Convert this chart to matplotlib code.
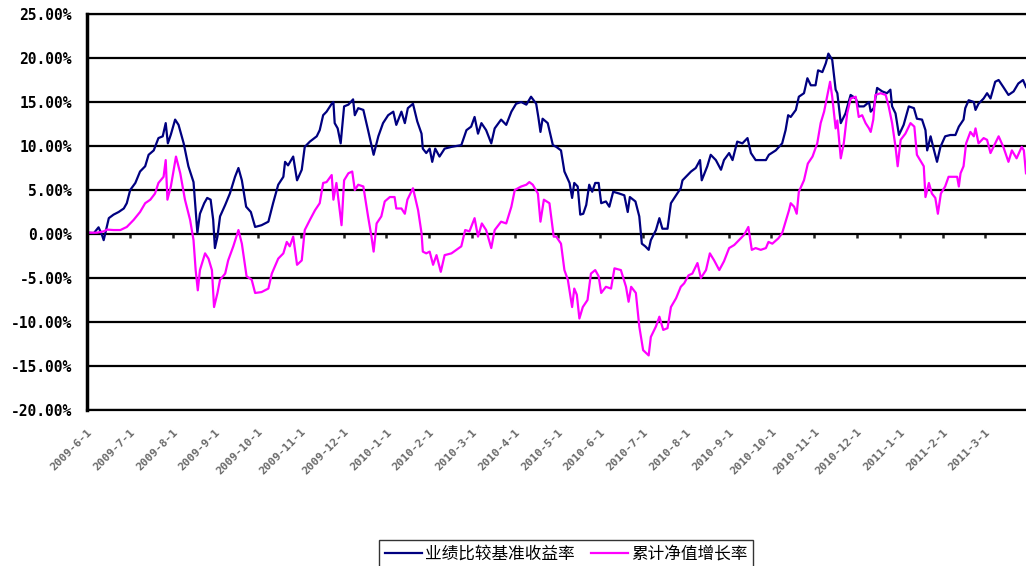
import matplotlib
matplotlib.use("Agg")
import matplotlib.pyplot as plt

# month labels on the category axis (one tick per month start)
month_labels = ["2009-6-1", "2009-7-1", "2009-8-1", "2009-9-1", "2009-10-1",
                "2009-11-1", "2009-12-1", "2010-1-1", "2010-2-1", "2010-3-1",
                "2010-4-1", "2010-5-1", "2010-6-1", "2010-7-1", "2010-8-1",
                "2010-9-1", "2010-10-1", "2010-11-1", "2010-12-1", "2011-1-1",
                "2011-2-1", "2011-3-1"]

# benchmark return (%), time in months since 2009-6-1
bench_t = [0.0, 0.04, 0.16, 0.27, 0.35, 0.39, 0.51, 0.62, 0.74, 0.86, 0.93,
           1.01, 1.13, 1.24, 1.36, 1.44, 1.56, 1.67, 1.77, 1.84, 1.89, 1.96,
           2.06, 2.14, 2.26, 2.37, 2.49, 2.58, 2.64, 2.74, 2.81, 2.89, 2.95,
           2.99, 3.05, 3.11, 3.23, 3.34, 3.46, 3.54, 3.62, 3.72, 3.83, 3.93,
           4.08, 4.24, 4.35, 4.47, 4.59, 4.63, 4.70, 4.82, 4.91, 5.02, 5.09,
           5.21, 5.37, 5.44, 5.52,
           5.60, 5.72, 5.76, 5.79, 5.86, 5.93, 6.01, 6.11, 6.22, 6.26, 6.34,
           6.46, 6.57, 6.70, 6.81, 6.92, 7.04, 7.16, 7.23, 7.35, 7.43, 7.50,
           7.62, 7.72, 7.82, 7.85, 7.93, 8.01, 8.07, 8.14, 8.24, 8.36, 8.52,
           8.75, 8.87, 8.98, 9.06, 9.14, 9.22, 9.33, 9.45, 9.53, 9.68, 9.80,
           9.92, 10.03, 10.15, 10.27, 10.38, 10.50, 10.55, 10.60, 10.65,
           10.77, 10.89,
           10.97, 11.08, 11.16, 11.28, 11.34, 11.39, 11.47, 11.53, 11.60,
           11.67, 11.74, 11.81, 11.88, 11.96, 12.02, 12.13, 12.21, 12.30,
           12.44, 12.56, 12.64, 12.69, 12.82, 12.91, 12.97, 13.05, 13.13,
           13.18, 13.30, 13.38, 13.45, 13.57, 13.65, 13.77, 13.88, 13.92,
           14.04, 14.12, 14.23, 14.33, 14.37, 14.50, 14.58, 14.70, 14.82,
           14.89, 15.01, 15.09, 15.20, 15.32, 15.44, 15.52, 15.63, 15.75,
           15.87, 15.94, 16.10, 16.25, 16.33, 16.39,
           16.45, 16.57, 16.64, 16.76, 16.84, 16.92, 17.03, 17.09, 17.19,
           17.27, 17.33, 17.42, 17.50, 17.54, 17.62, 17.73, 17.85, 17.97,
           18.04, 18.16, 18.28, 18.32, 18.39, 18.47, 18.59, 18.70, 18.78,
           18.82, 18.90, 18.98, 19.09, 19.21, 19.33, 19.40, 19.52, 19.60,
           19.64, 19.72, 19.79, 19.87, 19.95, 20.06, 20.18, 20.30, 20.38,
           20.49, 20.53, 20.61, 20.73, 20.77, 20.84, 20.96, 21.04, 21.12,
           21.23, 21.31, 21.42, 21.54, 21.66, 21.77, 21.88, 21.95]
bench_v = [0.0, 0.15, 0.1, 0.76, -0.1, -0.7, 1.8, 2.2, 2.5, 2.9, 3.5,
           5.0, 5.8, 7.1, 7.7, 9.0, 9.5, 10.9, 11.1, 12.6, 10.3, 11.3,
           13.0, 12.4, 10.3, 7.7, 5.9, 0.15, 2.3, 3.5, 4.1, 3.9, 1.6,
           -1.6, -0.3, 2.0, 3.3, 4.6, 6.5, 7.5, 6.1, 3.1, 2.5, 0.8,
           1.0, 1.4, 3.5, 5.6, 6.5, 8.2, 7.8, 8.8, 6.1, 7.3, 9.9,
           10.5, 11.1, 11.8, 13.5,
           13.9, 14.8, 15.0, 12.6, 12.0, 10.3, 14.5, 14.7, 15.3, 13.5, 14.3,
           14.1, 11.8, 9.0, 11.1, 12.6, 13.5, 13.9, 12.4, 13.9, 12.6, 14.3,
           14.8, 12.8, 11.4, 9.7, 9.2, 9.7, 8.2, 9.7, 8.8, 9.7, 9.9,
           10.1, 11.8, 12.2, 13.3, 11.4, 12.6, 11.8, 10.3, 12.0, 13.0, 12.4,
           13.9, 14.8, 15.0, 14.7, 15.6, 14.8, 13.3, 11.6, 13.1,
           12.6, 10.1,
           9.9, 9.5, 7.1, 5.8, 4.1, 5.8, 5.4, 2.2, 2.3,
           3.3, 5.6, 4.8, 5.8, 5.8, 3.5, 3.7, 3.1, 4.8,
           4.6, 4.4, 2.5, 4.2, 3.7, 2.0, -1.1, -1.4, -1.8,
           -0.7, 0.45, 1.8, 0.6, 0.6, 3.5, 4.4, 5.2, 6.1,
           6.7, 7.1, 7.5, 8.4, 6.1, 7.7, 9.0, 8.4, 7.3,
           8.4, 9.2, 8.4, 10.5, 10.3, 10.9, 9.2, 8.4, 8.4,
           8.4, 9.0, 9.5, 10.3, 11.8, 13.5,
           13.3, 14.1, 15.6, 16.0, 17.7, 16.9, 16.9, 18.6, 18.4,
           19.4, 20.5, 19.8, 16.4, 16.0, 12.6, 13.7, 15.8, 15.4,
           14.5, 14.5, 15.0, 13.9, 14.3, 16.6, 16.2, 16.0, 16.4,
           14.5, 13.7, 11.25, 12.4, 14.5, 14.3, 13.1, 13.0, 11.8,
           9.5, 11.1, 9.7, 8.2, 9.9, 11.1, 11.25, 11.25, 12.2,
           13.0, 14.3, 15.2, 15.0, 14.1, 14.8, 15.4, 16.0, 15.4,
           17.3, 17.5, 16.7, 15.8, 16.2, 17.1, 17.5, 16.7]

# cumulative NAV growth (%)
nav_t = [0.0, 0.04, 0.23, 0.39, 0.47, 0.62, 0.78, 0.93, 1.09, 1.24, 1.36,
         1.48, 1.59, 1.67, 1.79, 1.84, 1.88, 1.96, 2.08, 2.18, 2.29, 2.41,
         2.49, 2.54, 2.59, 2.64, 2.76, 2.84, 2.92, 2.97, 3.05, 3.11, 3.23,
         3.30, 3.42, 3.54, 3.62, 3.73, 3.85, 3.93, 4.08, 4.24, 4.32, 4.47,
         4.59, 4.67, 4.74, 4.82, 4.91, 5.02, 5.09, 5.21, 5.33, 5.44, 5.52,
         5.60, 5.72, 5.76, 5.83, 5.95, 6.01, 6.11, 6.20, 6.26, 6.34, 6.46,
         6.57, 6.65, 6.70, 6.77, 6.88, 6.96, 7.08, 7.19, 7.23, 7.35, 7.43,
         7.49, 7.62, 7.74, 7.82, 7.85, 7.93, 8.01, 8.09, 8.17, 8.27, 8.36,
         8.52, 8.75, 8.84, 8.94, 9.06, 9.14, 9.23, 9.33, 9.45, 9.53, 9.68,
         9.80, 9.92, 10.00, 10.15, 10.27, 10.34, 10.42, 10.54, 10.60, 10.68,
         10.81, 10.91,
         10.97, 11.08, 11.16, 11.24, 11.34, 11.39, 11.45, 11.51, 11.59,
         11.70, 11.78, 11.88, 11.96, 12.02, 12.13, 12.25, 12.33, 12.48,
         12.60, 12.66, 12.72, 12.83, 12.91, 13.00, 13.13, 13.18, 13.30,
         13.38, 13.47, 13.57, 13.65, 13.77, 13.88, 13.96, 14.06, 14.15,
         14.27, 14.35, 14.47, 14.56, 14.66, 14.78, 14.89, 15.01, 15.13,
         15.24, 15.36, 15.46, 15.54, 15.63, 15.75, 15.87, 15.93, 16.02,
         16.16, 16.25, 16.33, 16.41,
         16.45, 16.53, 16.59, 16.64, 16.76, 16.85, 16.96, 17.07, 17.15,
         17.23, 17.30, 17.37, 17.42, 17.50, 17.54, 17.62, 17.69, 17.77,
         17.85, 17.97, 18.04, 18.12, 18.20, 18.28, 18.32, 18.38, 18.43,
         18.55, 18.67, 18.74, 18.82, 18.90, 18.95, 19.02, 19.13, 19.25,
         19.34, 19.40, 19.50, 19.56, 19.60, 19.68, 19.75, 19.83, 19.89,
         19.96, 20.06, 20.14, 20.34, 20.38, 20.42, 20.49, 20.55, 20.65,
         20.73, 20.77, 20.84, 20.96, 21.04, 21.12, 21.23, 21.31, 21.42,
         21.54, 21.62, 21.73, 21.85, 21.90, 21.95]
nav_v = [0.0, 0.15, 0.15, 0.3, 0.5, 0.45, 0.45, 0.8, 1.6, 2.5, 3.5,
         3.9, 4.6, 5.8, 6.5, 8.4, 3.9, 5.4, 8.8, 6.9, 3.9, 1.6,
         -0.7, -4.1, -6.4, -4.1, -2.2, -2.8, -4.1, -8.3, -6.7, -5.2, -4.5,
         -3.0, -1.4, 0.45, -1.1, -4.8, -5.2, -6.7, -6.6, -6.2, -4.5, -2.8,
         -2.2, -0.9, -1.4, -0.3, -3.5, -3.0, 0.45, 1.6, 2.7, 3.5, 5.8,
         5.9, 6.7, 3.9, 5.8, 1.0, 6.1, 6.9, 7.1, 5.0, 5.6, 5.4,
         2.0, -0.3, -2.0, 1.2, 2.0, 3.7, 4.2, 4.2, 2.9, 2.9, 2.3,
         3.9, 5.2, 2.7, 0.1, -2.0, -2.2, -2.0, -3.5, -2.4, -4.3, -2.4,
         -2.2, -1.4, 0.45, 0.3, 1.8, -0.3, 1.2, 0.45, -1.6, 0.45, 1.4,
         1.2, 3.1, 5.0, 5.4, 5.6, 5.9, 5.6, 4.6, 1.4, 3.9,
         3.5, -0.3,
         -0.3, -1.1, -4.1, -5.2, -8.3, -6.2, -6.9, -9.6, -8.3,
         -7.5, -4.5, -4.1, -4.8, -6.7, -6.0, -6.2, -3.9, -4.1,
         -6.0, -7.7, -6.0, -6.7, -10.5, -13.2, -13.8, -11.7, -10.5,
         -9.4, -10.9, -10.7, -8.3, -7.3, -6.0, -5.6, -4.7, -4.5,
         -3.3, -5.0, -4.1, -2.2, -3.0, -4.1, -3.1, -1.6, -1.25,
         -0.7, -0.1, 0.8, -1.8, -1.6, -1.8, -1.6, -0.9, -1.1,
         -0.5, 0.1, 1.4, 2.7,
         3.5, 3.1, 2.3, 4.8, 6.1, 8.0, 8.8, 10.3, 12.6,
         13.9, 15.6, 17.3, 15.6, 12.0, 12.9, 8.6, 10.3, 13.7,
         15.4, 15.6, 13.3, 13.5, 12.6, 12.0, 11.6, 13.0, 15.8,
         16.0, 15.8, 14.5, 12.6, 9.9, 7.7, 10.7, 11.4, 12.6,
         12.2, 9.0, 8.2, 7.7, 4.2, 5.8, 4.6, 4.1, 2.3,
         4.6, 5.4, 6.5, 6.5, 5.4, 6.9, 7.7, 10.3, 11.6,
         11.1, 12.0, 10.3, 10.9, 10.7, 9.2, 10.3, 11.1, 9.9,
         8.2, 9.5, 8.6, 9.9, 9.5, 6.9]

y_ticks = [-20, -15, -10, -5, 0, 5, 10, 15, 20, 25]

fig = plt.figure(figsize=(10.26, 5.66), dpi=100)
ax = fig.add_axes([87 / 1026, 1 - 410 / 566, 1 - 87 / 1026, 396 / 566])

l1, = ax.plot(bench_t, bench_v, color="#000080", lw=1.6, label="业绩比较基准收益率")
l2, = ax.plot(nav_t, nav_v, color="#FF00FF", lw=1.6, label="累计净值增长率")

ax.set_xlim(0, 21.95)
ax.set_ylim(-20, 25)
ax.set_yticks(y_ticks)
ax.set_yticklabels([f"{v:.2f}%" for v in y_ticks],
                   family="DejaVu Sans Mono", fontweight="bold", fontsize=10.5)
ax.yaxis.grid(True, color="black", lw=1.6)
ax.set_axisbelow(True)
ax.tick_params(axis="y", length=0, pad=10.8)

ax.set_xticks(range(len(month_labels)))
ax.set_xticklabels(month_labels, rotation=45, ha="right", rotation_mode="anchor",
                   family="DejaVu Sans Mono", fontweight="bold", fontsize=8,
                   color="#6a6a6a")
ax.tick_params(axis="x", length=0, pad=12)

ax.spines["right"].set_visible(False)
ax.spines["left"].set_linewidth(2.5)
ax.spines["top"].set_linewidth(1.6)
ax.spines["bottom"].set_linewidth(1.6)

# small tick marks sitting on the 0% line
sec = ax.secondary_xaxis(20 / 45)
sec.set_xticks(range(len(month_labels)))
sec.xaxis.set_ticks_position("bottom")
sec.tick_params(axis="x", length=3, width=1.8, direction="out",
                labelbottom=False, labeltop=False, color="#222222")
for s in sec.spines.values():
    s.set_visible(False)

leg = fig.legend(handles=[l1, l2], loc="upper left",
                 bbox_to_anchor=(379 / 1026, 1 - 540 / 566), ncol=2,
                 prop={"family": ["Noto Sans CJK SC", "DejaVu Sans"], "size": 12},
                 frameon=True, fancybox=False, shadow=False, borderpad=0.35,
                 handlelength=2.2, handletextpad=0.2, columnspacing=1.0,
                 borderaxespad=0)
leg.get_frame().set_edgecolor("black")
leg.get_frame().set_linewidth(1.0)

fig.savefig("out.png", dpi=100)
